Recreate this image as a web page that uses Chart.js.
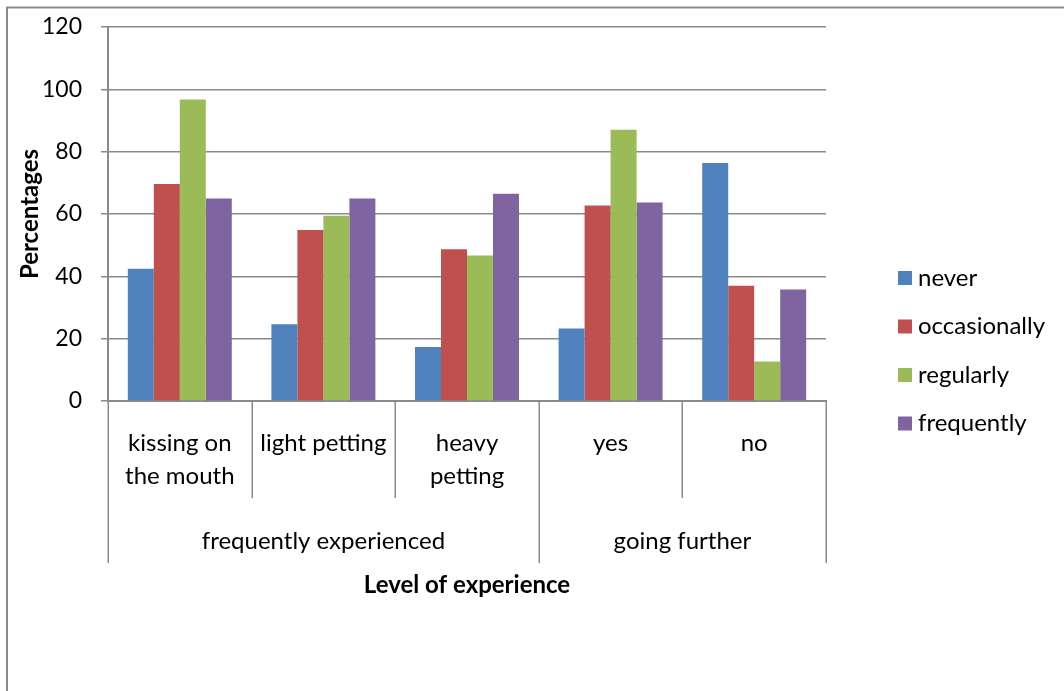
<!DOCTYPE html>
<html>
<head>
<meta charset="utf-8">
<script src="https://cdn.jsdelivr.net/npm/chart.js@4"></script>
<style>
  html, body { margin: 0; padding: 0; background: #fff; overflow: hidden; }
  #wrap { width: 1064px; height: 691px; position: relative; }
</style>
</head>
<body>
<div id="wrap"><canvas id="chart"></canvas></div>
<script>
// categories (multi-line) and the groups they belong to
const categories = [["kissing on", "the mouth"], ["light petting"], ["heavy", "petting"], ["yes"], ["no"]];
const groupLabels = ["frequently experienced", "going further"];
const groupSpans = [3, 2];

const seriesNames = ["never", "occasionally", "regularly", "frequently"];
const never        = [42.4, 24.6, 17.3, 23.3, 76.4];
const occasionally = [69.6, 54.9, 48.7, 62.7, 37.0];
const regularly    = [96.7, 59.4, 46.7, 87.0, 12.7];
const frequently   = [65.0, 65.0, 66.5, 63.7, 35.8];

const yMin = 0, yMax = 120, yStep = 20;

const colors = ["#4F81BD", "#C0504D", "#9BBB59", "#8064A2"];
const lineGray = "#8a8a8a";
const FONT = "Lato, 'Noto Sans', sans-serif";

// outer frame, multi-level category axis and legend
const decorations = {
  id: "decorations",
  beforeDraw(chart) {
    const ctx = chart.ctx;
    ctx.save();
    ctx.strokeStyle = lineGray;
    ctx.lineWidth = 2;
    ctx.strokeRect(7, 7.5, 1200, 900);
    ctx.restore();
  },
  afterDraw(chart) {
    const ctx = chart.ctx;
    const xs = chart.scales.x;
    const n = chart.data.labels.length;
    const w = (xs.right - xs.left) / n;
    const base = chart.chartArea.bottom;

    // separators: short ones between categories, long ones at group edges
    const groupEdges = [0];
    groupSpans.forEach(s => groupEdges.push(groupEdges[groupEdges.length - 1] + s));
    ctx.save();
    ctx.strokeStyle = lineGray;
    ctx.lineWidth = 1.5;
    for (let i = 0; i <= n; i++) {
      const x = Math.round(xs.left + i * w) + 0.25;
      const longLine = groupEdges.includes(i);
      ctx.beginPath();
      ctx.moveTo(x, base);
      ctx.lineTo(x, base + (longLine ? 162 : 97));
      ctx.stroke();
    }

    // category labels
    ctx.fillStyle = "#000";
    ctx.textAlign = "center";
    ctx.textBaseline = "middle";
    ctx.font = "24px " + FONT;
    chart.data.labels.forEach((lines, i) => {
      const cx = xs.getPixelForValue(i);
      lines.forEach((t, j) => ctx.fillText(t, cx, base + 42 + j * 33));
    });

    // group labels
    groupLabels.forEach((g, k) => {
      const a = xs.left + groupEdges[k] * w;
      const b = xs.left + groupEdges[k + 1] * w;
      ctx.fillText(g, (a + b) / 2, base + 140);
    });

    // axis title
    ctx.font = "bold 24px " + FONT;
    ctx.fillText("Level of experience", (xs.left + xs.right) / 2, base + 184);

    // legend
    ctx.font = "24px " + FONT;
    ctx.textAlign = "left";
    chart.data.datasets.forEach((ds, i) => {
      const y = 278 + i * 48.5;
      ctx.fillStyle = ds.backgroundColor;
      ctx.fillRect(898, y - 7, 14, 14);
      ctx.fillStyle = "#000";
      ctx.fillText(ds.label, 918, y);
    });
    ctx.restore();
  }
};

const seriesData = [never, occasionally, regularly, frequently];

new Chart(document.getElementById("chart"), {
  type: "bar",
  data: {
    labels: categories,
    datasets: seriesNames.map((name, i) => ({
      label: name,
      data: seriesData[i],
      backgroundColor: colors[i],
      borderWidth: 0,
      categoryPercentage: 0.724,
      barPercentage: 1.0
    }))
  },
  options: {
    responsive: true,
    maintainAspectRatio: false,
    animation: false,
    layout: { padding: { top: 27, right: 238, bottom: 0, left: 0 } },
    plugins: {
      legend: { display: false },
      tooltip: { enabled: false }
    },
    scales: {
      x: {
        ticks: { display: false },
        grid: { display: false },
        border: { display: true, color: lineGray, width: 2 },
        afterFit(scale) { scale.height = 290; }
      },
      y: {
        min: yMin,
        max: yMax,
        ticks: {
          stepSize: yStep,
          padding: 19,
          color: "#000",
          font: { family: FONT, size: 23 }
        },
        grid: { color: lineGray, lineWidth: 1.5, tickLength: 7 },
        border: { display: true, color: lineGray, width: 2 },
        title: {
          display: true,
          text: "Percentages",
          color: "#000",
          font: { family: FONT, size: 24, weight: "bold" },
          padding: { top: 16, bottom: 0 }
        },
        afterFit(scale) {
          scale.width = 108;
          scale.paddingTop = 0;
          scale.paddingBottom = 0;
        }
      }
    }
  },
  plugins: [decorations]
});
</script>
</body>
</html>
